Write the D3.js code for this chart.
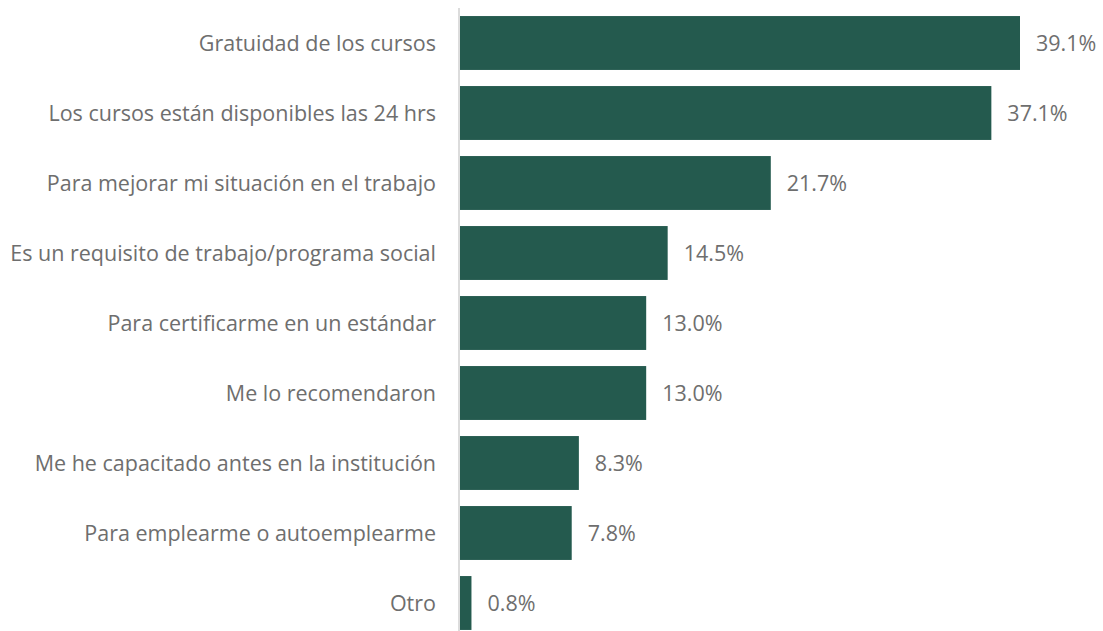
<!DOCTYPE html>
<html>
<head>
<meta charset="utf-8">
<script src="https://cdn.jsdelivr.net/npm/d3@7"></script>
<style>
  body { margin: 0; background: #fff; }
  svg { display: block; font-family: "Source Sans Pro", "Open Sans", sans-serif; }
</style>
</head>
<body>
<div id="chart"></div>
<script>
const categories = [
  "Gratuidad de los cursos",
  "Los cursos están disponibles las 24 hrs",
  "Para mejorar mi situación en el trabajo",
  "Es un requisito de trabajo/programa social",
  "Para certificarme en un estándar",
  "Me lo recomendaron",
  "Me he capacitado antes en la institución",
  "Para emplearme o autoemplearme",
  "Otro"
];
const values = [39.1, 37.1, 21.7, 14.5, 13.0, 13.0, 8.3, 7.8, 0.8];

const svgWidth = 1103;
const svgHeight = 631;
const margin = { top: 8, right: 0, bottom: 0, left: 459 };

const svg = d3.select("#chart")
    .append("svg")
    .attr("width", svgWidth)
    .attr("height", svgHeight);

const data = categories.map((c, i) => ({ cat: c, val: values[i] }));

const x = d3.scaleLinear()
    .domain([0, 39.1])
    .range([margin.left + 1, 1020]);

const y = d3.scaleBand()
    .domain(categories)
    .range([margin.top, margin.top + 70 * categories.length])
    .paddingInner(0.23)
    .paddingOuter(0.115);

// bars
svg.selectAll("rect.bar")
    .data(data)
    .join("rect")
    .attr("class", "bar")
    .attr("x", x(0))
    .attr("y", d => y(d.cat))
    .attr("width", d => x(d.val) - x(0))
    .attr("height", y.bandwidth())
    .attr("fill", "#245a4e")

// axis line
svg.append("line")
    .attr("x1", margin.left)
    .attr("x2", margin.left)
    .attr("y1", margin.top)
    .attr("y2", svgHeight)
    .attr("stroke", "#dcdcdc")
    .attr("stroke-width", 2)

// category labels
svg.selectAll("text.cat")
    .data(data)
    .join("text")
    .attr("class", "cat")
    .attr("x", margin.left - 23)
    .attr("y", d => y(d.cat) + y.bandwidth() / 2)
    .attr("dy", "0.38em")
    .attr("text-anchor", "end")
    .attr("font-size", 21.5)
    .attr("fill", "#6e6e6e")
    .text(d => d.cat)

// value labels
svg.selectAll("text.val")
    .data(data)
    .join("text")
    .attr("class", "val")
    .attr("x", d => x(d.val) + 16)
    .attr("y", d => y(d.cat) + y.bandwidth() / 2)
    .attr("dy", "0.38em")
    .attr("font-size", 21.5)
    .attr("fill", "#6e6e6e")
    .text(d => d.val.toFixed(1) + "%")
</script>
</body>
</html>
